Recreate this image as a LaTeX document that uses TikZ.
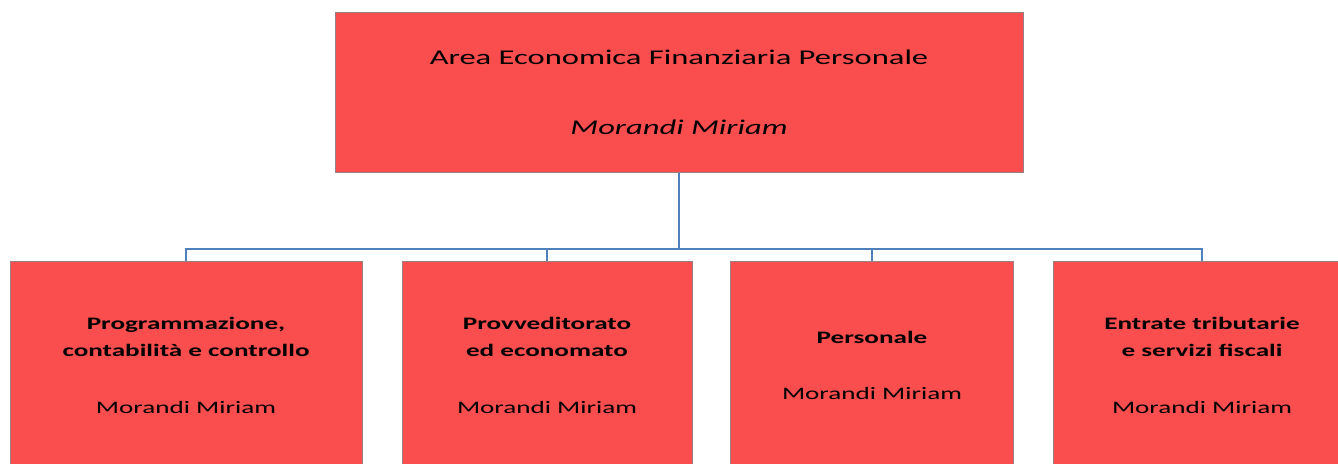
\documentclass[tikz,border=0pt]{standalone}
\usepackage{fontspec}
\setmainfont[FakeStretch=1.55]{Carlito}
\definecolor{boxred}{RGB}{250,78,78}
\definecolor{boxline}{RGB}{150,130,130}
\definecolor{linkblue}{RGB}{79,129,189}
\tikzset{
  unit/.style={draw=boxline, line width=1pt, fill=boxred, inner sep=0pt, align=center,
    minimum height=208pt, font=\fontsize{17.5}{27}\selectfont},
  head/.style={unit, minimum width=688pt, minimum height=160pt, font=\fontsize{21}{25}\selectfont},
  link/.style={draw=linkblue, line width=2pt}
}

\begin{document}
\begin{tikzpicture}[x=1pt, y=-1pt]

		\useasboundingbox (0, 0) rectangle (1338, 463);
		\clip (0, 0) rectangle (1338, 463);

		\node[head] (area) at (679, 92) {Area Economica Finanziaria Personale\\[45pt]\textit{Morandi Miriam}};

		\node[unit, minimum width = 352pt] (prog) at (186, 365) {\textbf{Programmazione,}\\\textbf{contabilità e controllo}\\[30pt]Morandi Miriam};
		\node[unit, minimum width = 290pt] (provv) at (547, 365) {\textbf{Provveditorato}\\\textbf{ed economato}\\[30pt]Morandi Miriam};
		\node[unit, minimum width = 283pt] (pers) at (872, 365) {\textbf{Personale}\\[29pt]Morandi Miriam};
		\node[unit, minimum width = 298pt] (entr) at (1202, 365) {\textbf{Entrate tributarie}\\\textbf{e servizi fiscali}\\[30pt]Morandi Miriam};

		\coordinate (bus) at (679, 249);
		\draw[link] (area.south) -- (bus);
		\draw[link] (bus) -| (prog.north);
		\draw[link] (bus) -| (provv.north);
		\draw[link] (bus) -| (pers.north);
		\draw[link] (bus) -| (entr.north);
	\end{tikzpicture}
\end{document}
